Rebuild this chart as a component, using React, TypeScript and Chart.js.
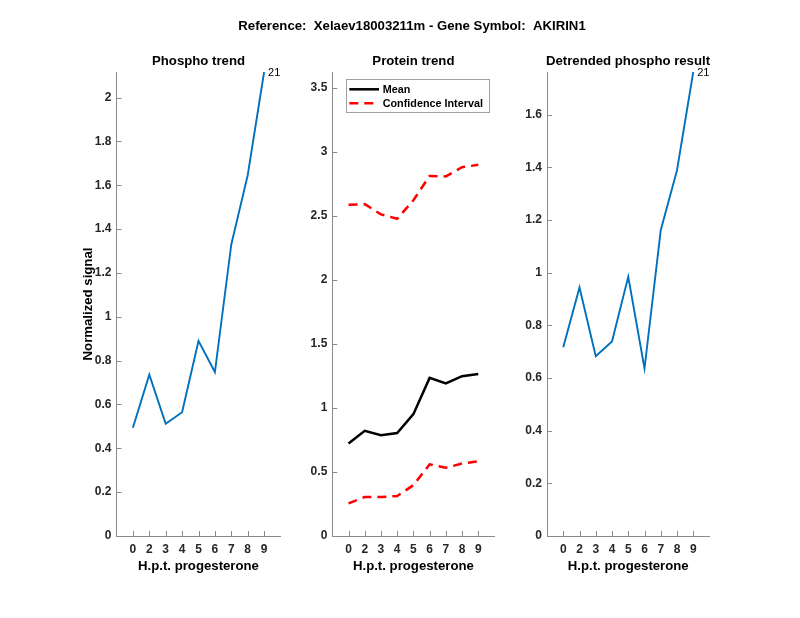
import React, { useEffect, useRef } from "react";
import { Chart, registerables } from "chart.js";

Chart.register(...registerables);

// ---------------- data ----------------
const timeLabels = ["0", "2", "3", "4", "5", "6", "7", "8", "9"];
const xPositions = [1, 2, 3, 4, 5, 6, 7, 8, 9];
const phosphoTrend = [0.494, 0.736, 0.512, 0.565, 0.89, 0.748, 1.33, 1.646, 2.117];
const proteinMean = [0.722, 0.821, 0.787, 0.803, 0.951, 1.234, 1.19, 1.247, 1.265];
const proteinUpper = [2.585, 2.59, 2.51, 2.476, 2.62, 2.81, 2.806, 2.878, 2.897];
const proteinLower = [0.255, 0.304, 0.304, 0.312, 0.397, 0.559, 0.532, 0.566, 0.582];
const detrendedPhospho = [0.717, 0.944, 0.683, 0.739, 0.984, 0.636, 1.161, 1.389, 1.762];

const phosphoTicks = [0, 0.2, 0.4, 0.6, 0.8, 1, 1.2, 1.4, 1.6, 1.8, 2];
const proteinTicks = [0, 0.5, 1, 1.5, 2, 2.5, 3, 3.5];
const detrendedTicks = [0, 0.2, 0.4, 0.6, 0.8, 1, 1.2, 1.4, 1.6];
const phosphoMax = 2.117;
const proteinMax = 3.621;
const detrendedMax = 1.762;
const xMin = 0;
const xMax = 10;

const peptideLabel = "21";
const mainTitle = "Reference:  Xelaev18003211m - Gene Symbol:  AKIRIN1";
const panelTitles = ["Phospho trend", "Protein trend", "Detrended phospho result"];
const xAxisTitle = "H.p.t. progesterone";
const yAxisTitle = "Normalized signal";
const legendLabels = ["Mean", "Confidence Interval"];

// ---------------- styles ----------------
const FONT = "'Liberation Sans', Arial, Helvetica, sans-serif";
const AXIS_GRAY = "#8a8a8a";
const TICK_TEXT = "#262626";
const TITLE_TEXT = "#000000";
const BLUE = "#0072BD";
const RED = "#FF0000";
const BLACK = "#000000";

const toPoints = (ys: number[]) => xPositions.map((x, i) => ({ x, y: ys[i] }));

// inward tick marks (MATLAB style)
const innerTicksPlugin = {
  id: "innerTicks",
  beforeDatasetsDraw(chart: any) {
    const { ctx } = chart;
    const x = chart.scales.x;
    const y = chart.scales.y;
    ctx.save();
    ctx.strokeStyle = AXIS_GRAY;
    ctx.lineWidth = 1;
    ctx.beginPath();
    x.ticks.forEach((t: any) => {
      const px = Math.round(x.getPixelForValue(t.value)) + 0.5;
      ctx.moveTo(px, y.bottom);
      ctx.lineTo(px, y.bottom - 5);
    });
    y.ticks.forEach((t: any) => {
      const py = Math.round(y.getPixelForValue(t.value)) + 0.5;
      ctx.moveTo(x.left, py);
      ctx.lineTo(x.left + 5, py);
    });
    ctx.stroke();
    ctx.restore();
  },
};

// label at the end of the line
const endLabelPlugin = {
  id: "endLabel",
  afterDatasetsDraw(chart: any, _args: any, opts: any) {
    if (!opts || !opts.text) return;
    const meta = chart.getDatasetMeta(0);
    const pt = meta.data[meta.data.length - 1];
    if (!pt) return;
    const { ctx } = chart;
    ctx.save();
    ctx.font = `normal 11px ${FONT}`;
    ctx.fillStyle = "#000";
    ctx.textAlign = "left";
    ctx.textBaseline = "middle";
    ctx.fillText(opts.text, pt.x + 4, pt.y + 0.5);
    ctx.restore();
  },
};

// boxed legend inside the plot area
const boxLegendPlugin = {
  id: "boxLegend",
  afterDraw(chart: any, _args: any, opts: any) {
    if (!opts || !opts.show) return;
    const { ctx, chartArea } = chart;
    const bx = chartArea.left + opts.offsetX;
    const by = chartArea.top + opts.offsetY;
    ctx.save();
    ctx.fillStyle = "#fff";
    ctx.fillRect(bx, by, opts.width, opts.height);
    ctx.strokeStyle = "#a0a0a0";
    ctx.lineWidth = 1;
    ctx.strokeRect(Math.round(bx) + 0.5, Math.round(by) + 0.5, Math.round(opts.width), Math.round(opts.height));
    const items = chart.data.datasets.filter((d: any) => d.label && !d.hideInLegend);
    items.forEach((ds: any, i: number) => {
      const cy = by + opts.rowStart + i * opts.rowGap;
      ctx.strokeStyle = ds.borderColor;
      ctx.lineWidth = ds.borderWidth;
      ctx.setLineDash(ds.borderDash || []);
      ctx.beginPath();
      ctx.moveTo(bx + opts.sampleStart, cy);
      ctx.lineTo(bx + opts.sampleEnd, cy);
      ctx.stroke();
      ctx.setLineDash([]);
      ctx.fillStyle = TITLE_TEXT;
      ctx.font = `bold 10.8px ${FONT}`;
      ctx.textAlign = "left";
      ctx.textBaseline = "middle";
      ctx.fillText(ds.label, bx + opts.textStart, cy + 0.5);
    });
    ctx.restore();
  },
};

const fmt = (v: any) => String(Number(Number(v).toFixed(3)));

function buildOptions(cfg: {
  yMax: number;
  yTicks: number[];
  yWidth: number;
  rightWidth: number;
  showYTitle: boolean;
  title: any;
  subtitle?: any;
  endText?: string;
  legend?: any;
}) {
  return {
    responsive: true,
    maintainAspectRatio: false,
    animation: false,
    events: [],
    layout: { padding: 0 },
    scales: {
      x: {
        type: "linear",
        min: xMin,
        max: xMax,
        afterBuildTicks: (s: any) => {
          s.ticks = xPositions.map((v) => ({ value: v }));
        },
        afterFit: (s: any) => {
          s.height = 618 - 536;
        },
        ticks: {
          autoSkip: false,
          maxRotation: 0,
          padding: 6,
          color: TICK_TEXT,
          font: { family: FONT, size: 12, weight: "bold" },
          callback: (v: any) => {
            const i = xPositions.indexOf(v);
            return i >= 0 ? timeLabels[i] : "";
          },
        },
        grid: { display: false, drawTicks: false },
        border: { display: true, color: AXIS_GRAY, width: 1 },
        title: {
          display: true,
          text: xAxisTitle,
          color: TITLE_TEXT,
          font: { family: FONT, size: 13.2, weight: "bold" },
          padding: { top: 0, bottom: 44.2 },
        },
      },
      y: {
        type: "linear",
        position: "left",
        min: 0,
        max: cfg.yMax,
        afterBuildTicks: (s: any) => {
          s.ticks = cfg.yTicks.map((v) => ({ value: v }));
        },
        afterFit: (s: any) => {
          s.width = cfg.yWidth;
        },
        ticks: {
          padding: 5,
          color: TICK_TEXT,
          font: { family: FONT, size: 12, weight: "bold" },
          callback: fmt,
        },
        grid: { display: false, drawTicks: false },
        border: { display: true, color: AXIS_GRAY, width: 1 },
        title: {
          display: cfg.showYTitle,
          text: yAxisTitle,
          color: TITLE_TEXT,
          font: { family: FONT, size: 13.2, weight: "bold" },
          padding: { top: 80.2, bottom: 0 },
        },
      },
      yr: {
        type: "linear",
        position: "right",
        display: true,
        afterFit: (s: any) => {
          s.width = cfg.rightWidth;
        },
        ticks: { display: false },
        grid: { display: false, drawTicks: false },
        border: { display: false },
      },
    },
    plugins: {
      legend: { display: false },
      tooltip: { enabled: false },
      title: cfg.title,
      subtitle: cfg.subtitle || { display: false },
      endLabel: { text: cfg.endText || "" },
      boxLegend: cfg.legend || { show: false },
    },
  } as any;
}

const titleFont = { family: FONT, size: 13.2, weight: "bold" };

export default function App() {
  const ref1 = useRef<HTMLCanvasElement>(null);
  const ref2 = useRef<HTMLCanvasElement>(null);
  const ref3 = useRef<HTMLCanvasElement>(null);

  useEffect(() => {
    const plugins = [innerTicksPlugin, endLabelPlugin, boxLegendPlugin];

    const c1 = new Chart(ref1.current as HTMLCanvasElement, {
      type: "line",
      data: {
        datasets: [
          {
            label: "",
            data: toPoints(phosphoTrend),
            borderColor: BLUE,
            borderWidth: 1.9,
            pointRadius: 0,
            tension: 0,
            fill: false,
          },
        ],
      },
      options: buildOptions({
        yMax: phosphoMax,
        yTicks: phosphoTicks,
        yWidth: 116.5,
        rightWidth: 9.5,
        showYTitle: true,
        endText: peptideLabel,
        title: {
          display: true,
          text: panelTitles[0],
          fullSize: false,
          color: TITLE_TEXT,
          font: titleFont,
          padding: { top: 53.1, bottom: 3.06 },
        },
      }),
      plugins,
    } as any);

    const c2 = new Chart(ref2.current as HTMLCanvasElement, {
      type: "line",
      data: {
        datasets: [
          {
            label: legendLabels[0],
            data: toPoints(proteinMean),
            borderColor: BLACK,
            borderWidth: 2.5,
            pointRadius: 0,
            tension: 0,
            fill: false,
          },
          {
            label: legendLabels[1],
            data: toPoints(proteinUpper),
            borderColor: RED,
            borderWidth: 2.5,
            borderDash: [9, 6],
            pointRadius: 0,
            tension: 0,
            fill: false,
          },
          {
            label: legendLabels[1],
            hideInLegend: true,
            data: toPoints(proteinLower),
            borderColor: RED,
            borderWidth: 2.5,
            borderDash: [9, 6],
            pointRadius: 0,
            tension: 0,
            fill: false,
          },
        ],
      },
      options: buildOptions({
        yMax: proteinMax,
        yTicks: proteinTicks,
        yWidth: 112.3,
        rightWidth: 109.5,
        showYTitle: false,
        title: {
          display: true,
          text: mainTitle,
          fullSize: true,
          color: TITLE_TEXT,
          font: titleFont,
          padding: { top: 18.7, bottom: 0 },
        },
        subtitle: {
          display: true,
          text: panelTitles[1],
          fullSize: false,
          color: TITLE_TEXT,
          font: titleFont,
          padding: { top: 18.54, bottom: 3.08 },
        },
        legend: {
          show: true,
          offsetX: 13.4,
          offsetY: 7.3,
          width: 143.3,
          height: 33.4,
          sampleStart: 3.6,
          sampleEnd: 33.3,
          textStart: 37,
          rowStart: 10,
          rowGap: 14,
        },
      }),
      plugins,
    } as any);

    const c3 = new Chart(ref3.current as HTMLCanvasElement, {
      type: "line",
      data: {
        datasets: [
          {
            label: "",
            data: toPoints(detrendedPhospho),
            borderColor: BLUE,
            borderWidth: 1.9,
            pointRadius: 0,
            tension: 0,
            fill: false,
          },
        ],
      },
      options: buildOptions({
        yMax: detrendedMax,
        yTicks: detrendedTicks,
        yWidth: 42,
        rightWidth: 41.5,
        showYTitle: false,
        endText: peptideLabel,
        title: {
          display: true,
          text: panelTitles[2],
          fullSize: true,
          color: TITLE_TEXT,
          font: titleFont,
          padding: { top: 53.1, bottom: 3.06 },
        },
      }),
      plugins,
    } as any);

    return () => {
      c1.destroy();
      c2.destroy();
      c3.destroy();
    };
  }, []);

  const wrap = (left: number, width: number): React.CSSProperties => ({
    position: "absolute",
    left,
    top: 0,
    width,
    height: 618,
  });

  return (
    <div style={{ position: "absolute", left: 0, top: 0, width: 800, height: 618, background: "#fff" }}>
      <div style={wrap(0, 290)}>
        <canvas ref={ref1} />
      </div>
      <div style={wrap(220, 384)}>
        <canvas ref={ref2} />
      </div>
      <div style={wrap(505, 246)}>
        <canvas ref={ref3} />
      </div>
    </div>
  );
}
